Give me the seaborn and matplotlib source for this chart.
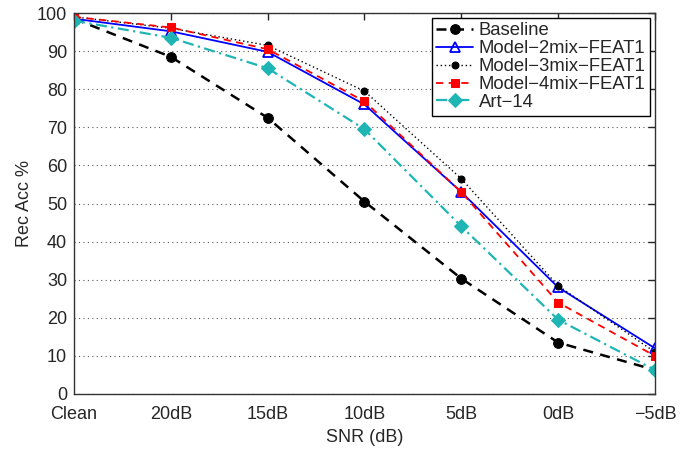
import matplotlib
matplotlib.use("Agg")
import matplotlib.pyplot as plt
import seaborn as sns
import pandas as pd

categories = ["Clean", "20dB", "15dB", "10dB", "5dB", "0dB", "\u22125dB"]
baseline = [98.5, 88.5, 72.5, 50.5, 30.3, 13.5, 6.3]
model2 = [98.5, 95.2, 89.8, 76.0, 53.0, 28.0, 12.0]
model3 = [99.0, 96.0, 91.5, 79.5, 56.5, 28.4, 11.0]
model4 = [99.0, 96.2, 90.5, 76.8, 53.0, 24.0, 10.0]
art14 = [98.0, 93.5, 85.5, 69.5, 44.0, 19.5, 6.3]
series_names = ["Baseline", "Model\u22122mix\u2212FEAT1", "Model\u22123mix\u2212FEAT1",
                "Model\u22124mix\u2212FEAT1", "Art\u221214"]

sns.set_style("white")
plt.rcParams['font.family'] = ['Liberation Sans', 'DejaVu Sans']

fig = plt.figure(figsize=(6.87, 4.49), dpi=100)
ax = fig.add_axes([0.1077, 0.1225, 0.8457, 0.8485])

pos = list(range(len(categories)))
styles = [
    dict(color="black", linestyle=(0, (4, 3)), marker="o", markersize=7, markerfacecolor="black", markeredgecolor="black", linewidth=1.8),
    dict(color="#0000ff", linestyle="-", marker="^", markersize=7, markerfacecolor="none", markeredgecolor="#0000ff", linewidth=1.3, markeredgewidth=1.3),
    dict(color="black", linestyle=(0, (1, 2)), marker="o", markersize=5, markerfacecolor="black", markeredgecolor="black", linewidth=1.0),
    dict(color="#ff0000", linestyle=(0, (4, 3)), marker="s", markersize=6, markerfacecolor="#ff0000", markeredgecolor="#ff0000", linewidth=1.3),
    dict(color="#1fb5b5", linestyle=(0, (5, 2, 1, 2)), marker="D", markersize=7, markerfacecolor="#1fb5b5", markeredgecolor="#1fb5b5", linewidth=1.6),
]
data = [baseline, model2, model3, model4, art14]
for name, vals, st in zip(series_names, data, styles):
    df = pd.DataFrame({"x": pos, "y": vals})
    sns.lineplot(data=df, x="x", y="y", ax=ax, label=name, **st)

ax.set_xlim(0, len(categories) - 1)
ax.set_ylim(0, 100)
ax.set_xticks(pos)
ax.set_xticklabels(categories)
ax.set_yticks(range(0, 101, 10))
ax.set_xlabel("SNR (dB)", fontsize=13, labelpad=4)
ax.set_ylabel("Rec Acc %", fontsize=13, labelpad=3)
ax.tick_params(axis="both", direction="in", length=5, labelsize=13, top=True, right=True, width=1)
ax.tick_params(axis="x", pad=9)
ax.tick_params(axis="y", pad=5)
ax.yaxis.grid(True, linestyle=(0, (1, 3)), color="#555555", linewidth=0.8)
ax.xaxis.grid(False)
for s in ax.spines.values():
    s.set_color("#333333")
    s.set_linewidth(1.0)
    s.set_visible(True)

leg = ax.legend(loc="upper right", fontsize=13.3, frameon=True, fancybox=False,
                framealpha=1, edgecolor="black", borderpad=0.25, labelspacing=0.05,
                handlelength=2.0, handletextpad=0.3, borderaxespad=0.25)
leg.get_frame().set_linewidth(1.0)

fig.savefig("out.png", dpi=100)
